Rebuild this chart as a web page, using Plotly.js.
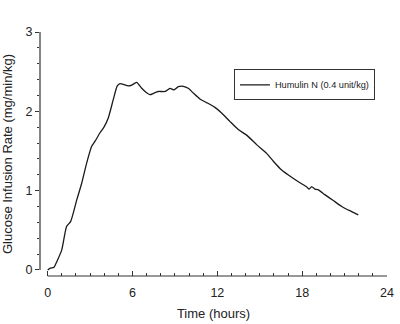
<!DOCTYPE html>
<html>
<head>
<meta charset="utf-8">
<script src="https://cdn.plot.ly/plotly-3.0.1.min.js"></script>
<style>
html,body{margin:0;padding:0;background:#fff;}
#chart{width:400px;height:324px;}
</style>
</head>
<body>
<div id="chart"></div>
<script>
var timeHours = [0, 0.16, 0.45, 0.63, 0.99, 1.34, 1.62, 2.05, 2.4, 2.76, 3.11, 3.34, 3.7, 3.98, 4.29, 4.64, 4.92, 5.11, 5.35, 5.7, 5.94, 6.29, 6.65, 6.95, 7.23, 7.52, 7.82, 8.3, 8.65, 8.93, 9.24, 9.59, 9.94, 10.3, 10.77, 11.24, 11.83, 12.3, 12.9, 13.48, 14.07, 14.78, 15.49, 15.96, 16.43, 17.0, 17.7, 18.3, 18.5, 18.67, 18.9, 19.14, 19.6, 20.2, 20.8, 21.15, 21.5, 21.97];
var girValues = [0, 0.02, 0.035, 0.1, 0.25, 0.55, 0.61, 0.88, 1.09, 1.35, 1.56, 1.62, 1.73, 1.80, 1.92, 2.15, 2.32, 2.35, 2.34, 2.32, 2.33, 2.365, 2.29, 2.24, 2.21, 2.23, 2.25, 2.25, 2.29, 2.27, 2.31, 2.315, 2.29, 2.23, 2.155, 2.11, 2.05, 1.98, 1.87, 1.77, 1.70, 1.58, 1.47, 1.37, 1.28, 1.20, 1.115, 1.05, 1.02, 1.05, 1.02, 1.01, 0.95, 0.875, 0.80, 0.766, 0.736, 0.695];
var seriesName = "Humulin N (0.4 unit/kg)";
var xTickVals = [0, 6, 12, 18, 24];
var yTickVals = [0, 1, 2, 3];

var axisColor = "#333";
var textColor = "#222";
var fontFam = "Liberation Sans, Arial, sans-serif";

var trace = {
  x: timeHours,
  y: girValues,
  type: "scatter",
  mode: "lines",
  name: seriesName,
  line: {color: "#1a1a1a", width: 1.3, shape: "spline", smoothing: 0.6}
};

var layout = {
  width: 400,
  height: 324,
  margin: {l: 40, r: 13, t: 32, b: 48},
  paper_bgcolor: "#fff",
  plot_bgcolor: "#fff",
  font: {family: fontFam, color: textColor, size: 12.5},
  showlegend: true,
  legend: {
    x: 0.559, y: 0.847, xanchor: "left", yanchor: "top",
    bordercolor: axisColor, borderwidth: 1, bgcolor: "#fff",
    font: {size: 9.2, family: fontFam, color: textColor},
    itemwidth: 30
  },
  xaxis: {
    range: [-0.545, 24],
    tickvals: xTickVals,
    ticktext: xTickVals.map(String),
    ticks: "inside", ticklen: 5, tickwidth: 1, tickcolor: axisColor,
    minor: {dtick: 1, tick0: 0, ticks: "inside", ticklen: 3, tickwidth: 1, tickcolor: axisColor},
    showline: false, showgrid: false, zeroline: false,
    ticklabelstandoff: 7,
    title: {text: "Time (hours)", font: {size: 13, family: fontFam, color: textColor}, standoff: 10}
  },
  yaxis: {
    range: [-0.076, 3],
    tickvals: yTickVals,
    ticktext: yTickVals.map(String),
    ticks: "outside", ticklen: 4, tickwidth: 1, tickcolor: axisColor,
    minor: {dtick: 0.2, tick0: 0, ticks: "outside", ticklen: 2, tickwidth: 1, tickcolor: axisColor},
    showline: false, showgrid: false, zeroline: false,
    title: {text: "Glucose Infusion Rate (mg/min/kg)", font: {size: 13, family: fontFam, color: textColor}, standoff: 9}
  },
  shapes: [
    {type: "line", xref: "x", yref: "paper", x0: 0, x1: 24, y0: 0, y1: 0, line: {color: axisColor, width: 1.2}},
    {type: "line", xref: "paper", yref: "y", x0: 0, x1: 0, y0: 0, y1: 3, line: {color: axisColor, width: 1.2}}
  ]
};

Plotly.newPlot("chart", [trace], layout, {displayModeBar: false, staticPlot: true});
</script>
</body>
</html>
